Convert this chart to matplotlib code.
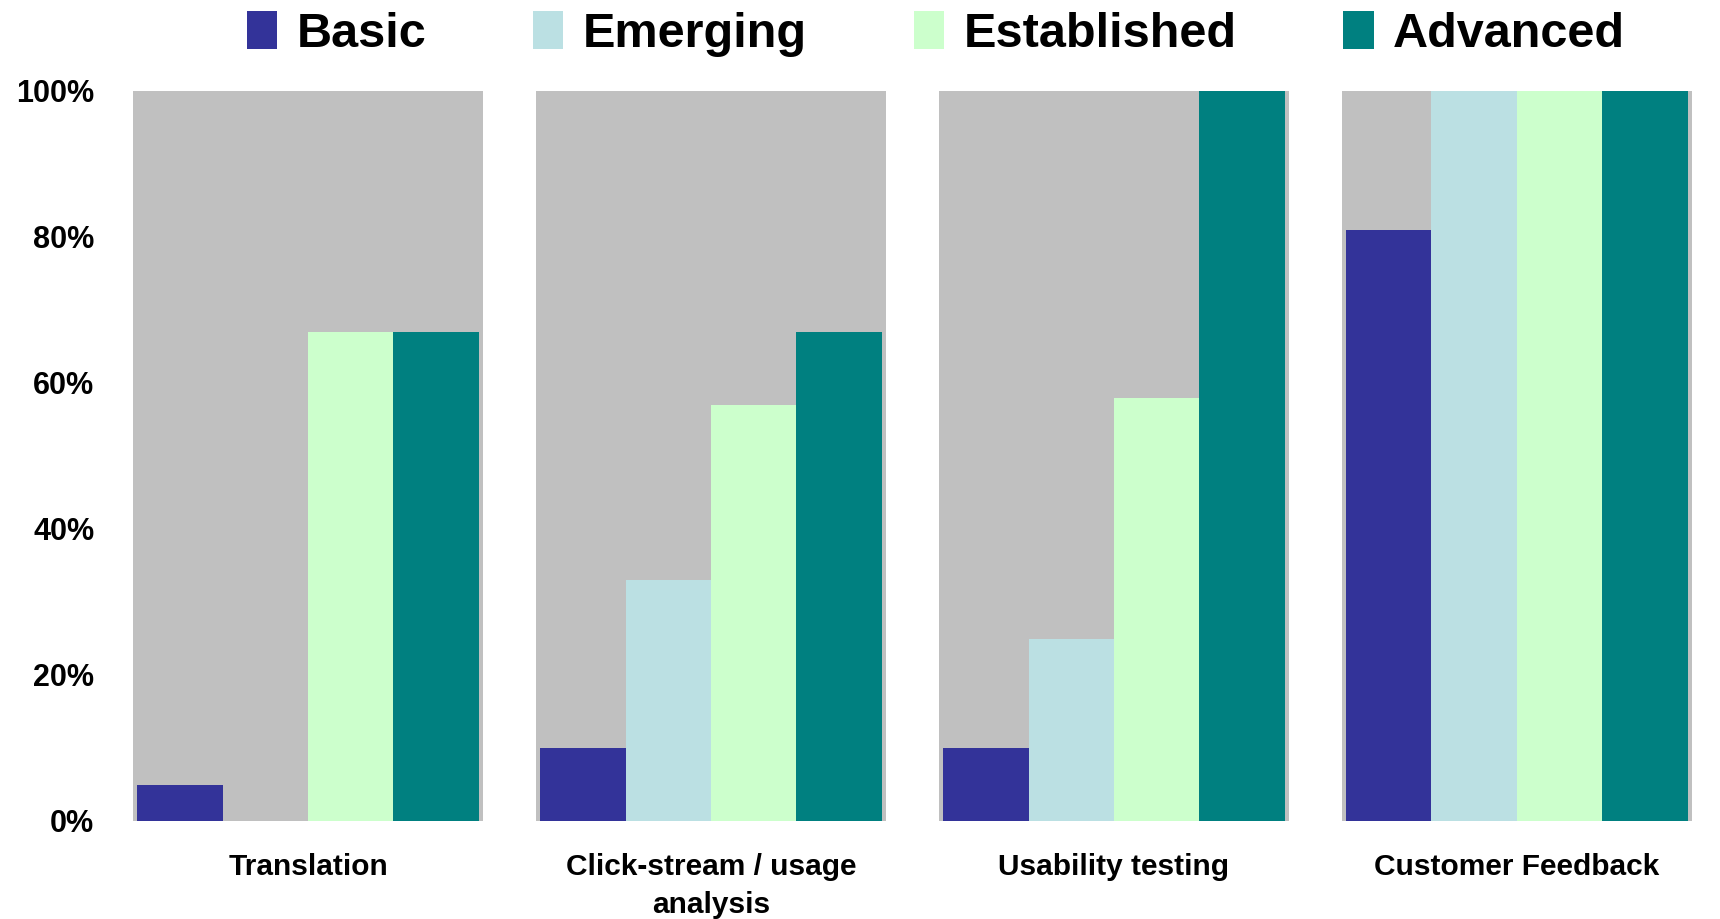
import numpy as np
import matplotlib
matplotlib.use("Agg")
import matplotlib.pyplot as plt
from matplotlib.patches import Rectangle

plt.rcParams['font.family'] = ['Liberation Sans', 'DejaVu Sans']
plt.rcParams['font.weight'] = 'bold'

categories = ["Translation", "Click-stream / usage\nanalysis", "Usability testing", "Customer Feedback"]
levels = ["Basic", "Emerging", "Established", "Advanced"]
basic = [0.05, 0.10, 0.10, 0.81]
emerging = [0.0, 0.33, 0.25, 1.0]
established = [0.67, 0.57, 0.58, 1.0]
advanced = [0.67, 0.67, 1.0, 1.0]
backdrop = [1.0, 1.0, 1.0, 1.0]

colors = ["#333399", "#BBE0E3", "#CCFFCC", "#008080"]
gray = "#C0C0C0"

W, H = 1720, 919
fig = plt.figure(figsize=(W / 100, H / 100), dpi=100)
ax = fig.add_axes([115 / W, (H - 821) / H, (W - 115) / W, (821 - 91) / H])

x = np.arange(len(categories))
bw = 0.212

# grey 100% bar behind each group
ax.bar(x, backdrop, width=0.87, color=gray, zorder=1)

series = [basic, emerging, established, advanced]
for i, (vals, c) in enumerate(zip(series, colors)):
    ax.bar(x + (i - 1.5) * bw, vals, width=bw, color=c, zorder=2, linewidth=0)

ax.set_xlim(-0.479, 3.504)
ax.set_ylim(0, 1)
ax.set_yticks(np.arange(0, 1.01, 0.2))
ax.set_yticklabels([f"{int(round(v * 100))}%" for v in np.arange(0, 1.01, 0.2)],
                   fontsize=22, fontweight='bold')
ax.set_xticks(x)
ax.set_xticklabels(categories, fontsize=21.5, fontweight='bold', linespacing=1.45)
ax.tick_params(axis='both', length=0)
ax.tick_params(axis='x', pad=23)
ax.tick_params(axis='y', pad=15)
for s in ax.spines.values():
    s.set_visible(False)

handles = [Rectangle((0, 0), 1, 1, facecolor=c, edgecolor='none') for c in colors]
fig.legend(handles, levels, loc='center', bbox_to_anchor=(936 / W, 1 - 34 / H),
           ncol=4, frameon=False, prop={'size': 35, 'weight': 'bold'},
           handlelength=0.62, handleheight=0.82, handletextpad=0.4,
           columnspacing=2.2, borderpad=0, borderaxespad=0)

fig.savefig("out.png", dpi=100)
